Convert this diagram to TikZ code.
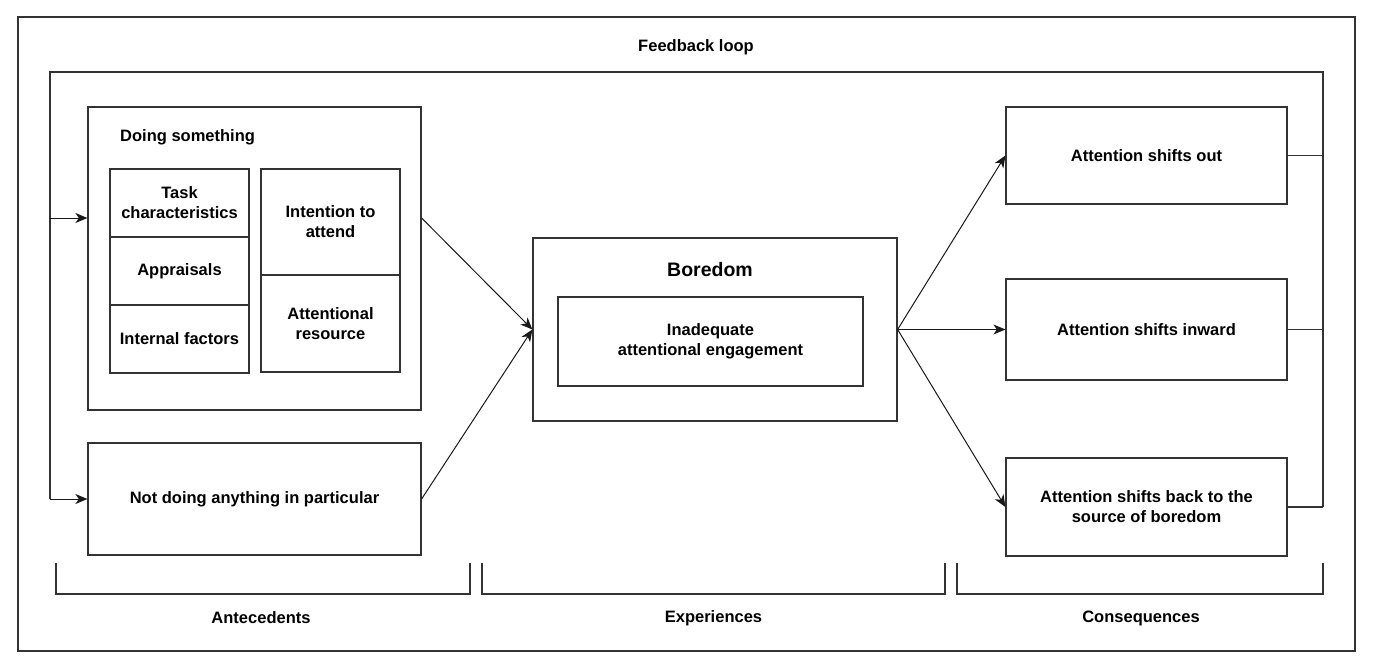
\documentclass[tikz,border=0pt]{standalone}
\usepackage{fontspec}
\setmainfont{Liberation Sans}
\usetikzlibrary{arrows.meta}
\tikzset{
  ln/.style={draw=black!80, line width=1.2pt},
  box/.style={ln, rectangle, inner sep=0pt, align=center, font=\fontsize{16.5}{20}\selectfont\bfseries},
  lbl/.style={inner sep=0pt, align=center, font=\fontsize{16.5}{20}\selectfont\bfseries},
  arr/.style={draw=black!90, line width=1pt, -{Stealth[length=12pt,width=10pt,inset=3.5pt]}},
}
\begin{document}
\begin{tikzpicture}[x=1pt,y=-1pt]
\useasboundingbox (0,0) rectangle (1374,666);
\fill[white] (0,0) rectangle (1374,666);
% outer frame
\draw[ln] (18,17) rectangle (1355,651);
\node[lbl] (fbl) at (696,47) {Feedback loop};
% antecedents
\node[box, minimum width=333pt, minimum height=303pt] (doing) at (254.5,258.5) {};
\node[lbl, anchor=west] (doingl) at (120,137) {Doing something};
\node[box, minimum width=139pt, minimum height=68pt] (task) at (179.5,203) {Task\\characteristics};
\node[box, minimum width=139pt, minimum height=68pt] (appr) at (179.5,271) {Appraisals};
\node[box, minimum width=139pt, minimum height=68pt] (intf) at (179.5,339) {Internal factors};
\node[box, minimum width=139pt, minimum height=106pt] (inten) at (330.5,222) {Intention to\\attend};
\node[box, minimum width=139pt, minimum height=97pt] (resrc) at (330.5,323.5) {Attentional\\resource};
\node[box, minimum width=333pt, minimum height=112pt] (notd) at (254.5,499) {Not doing anything in particular};
% experiences
\node[box, minimum width=364pt, minimum height=183pt] (bored) at (715,329.5) {};
\node[lbl, font=\fontsize{19.5}{23}\selectfont\bfseries] (boredl) at (710,270) {Boredom};
\node[box, minimum width=305pt, minimum height=89pt] (inad) at (710.5,341.5) {Inadequate\\attentional engagement};
% consequences
\node[box, minimum width=281pt, minimum height=97pt] (out) at (1146.5,155.5) {Attention shifts out};
\node[box, minimum width=281pt, minimum height=101pt] (inw) at (1146.5,329.5) {Attention shifts inward};
\node[box, minimum width=281pt, minimum height=98pt] (back) at (1146.5,507) {Attention shifts back to the\\source of boredom};
% feedback loop
\coordinate (fbTL) at (50,72);
\coordinate (fbTR) at (1323,72);
\coordinate (fbA) at (50,218);
\coordinate (fbB) at (50,499);
\coordinate (fbR) at (1323,507);
\draw[ln] (fbR) -- (fbTR) -- (fbTL) -- (fbB);
\draw[arr] (fbB) -- (notd.west);
\draw[arr] (fbA) -- (fbA -| doing.west);
\draw[ln] (back.east) -- (fbR);
\draw[ln] (out.east) -- (out.east -| fbR);
\draw[ln] (inw.east) -- (inw.east -| fbR);
% main arrows
\coordinate (dOut) at (doing.east |- fbA);
\draw[arr] (dOut) -- (bored.west);
\draw[arr] (notd.east) -- (bored.west);
\draw[arr] (bored.east) -- (out.west);
\draw[arr] (bored.east) -- (inw.west);
\draw[arr] (bored.east) -- (back.west);
% brackets
\draw[ln] (56,563) -- (56,594) -- (470,594) -- (470,563);
\draw[ln] (482,563) -- (482,594) -- (945,594) -- (945,563);
\draw[ln] (957,563) -- (957,594) -- (1323,594) -- (1323,563);
\node[lbl] (ante) at (261,618) {Antecedents};
\node[lbl] (expe) at (713.5,618) {Experiences};
\node[lbl] (cons) at (1141,618) {Consequences};
\end{tikzpicture}
\end{document}
